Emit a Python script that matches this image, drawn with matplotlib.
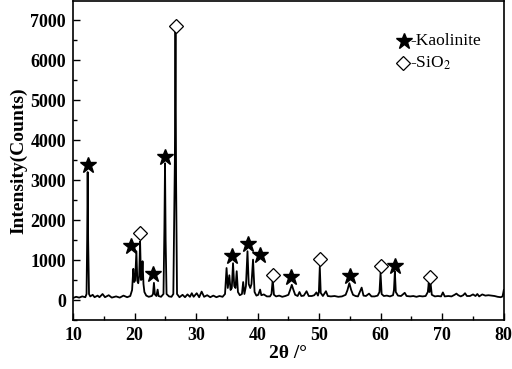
import matplotlib
matplotlib.use("Agg")
import matplotlib.pyplot as plt
from matplotlib.ticker import MultipleLocator

plt.rcParams['font.family'] = ['Liberation Serif', 'DejaVu Serif']
plt.rcParams['mathtext.fontset'] = 'stix'

# XRD trace (2theta in degrees, intensity in counts)
two_theta = [10.0, 10.5, 11.0, 11.5, 12.0, 12.2, 12.3, 12.38, 12.46, 12.6, 12.8, 13.2, 13.5, 14.0,
             14.3, 14.8, 15.2, 15.8, 16.3, 17.0, 17.6, 18.2, 18.8, 19.3, 19.6, 19.8, 19.95, 20.1,
             20.3, 20.45, 20.6, 20.75, 20.9, 21.05, 21.15, 21.3, 21.45, 21.6, 21.9, 22.3, 22.8,
             23.0, 23.15, 23.3, 23.55, 23.75, 23.9, 24.3, 24.7, 24.85, 24.95, 25.05, 25.2, 25.6,
             26.0, 26.3, 26.55, 26.65, 26.75, 26.9, 27.3, 27.8, 28.2, 28.6, 29.0, 29.3, 29.6,
             30.1, 30.5, 30.9, 31.3, 31.8, 32.3, 32.8, 33.3, 33.8, 34.3, 34.7, 34.95, 35.15,
             35.4, 35.6, 35.8, 36.0, 36.2, 36.4, 36.6, 36.8, 37.1, 37.45, 37.65, 37.85, 38.1,
             38.35, 38.55, 38.8, 39.0, 39.25, 39.5, 39.8, 40.1, 40.4, 40.6, 41.0, 41.5, 42.0,
             42.25, 42.45, 42.65, 43.0, 43.5, 44.0, 44.5, 45.0, 45.3, 45.55, 45.8, 46.1, 46.5,
             46.8, 47.1, 47.5, 47.95, 48.3, 48.8, 49.2, 49.55, 49.8, 49.95, 50.1, 50.25, 50.6,
             51.1, 51.4, 51.9, 52.5, 53.1, 53.7, 54.3, 54.6, 54.9, 55.2, 55.5, 55.9, 56.3, 56.9,
             57.2, 57.6, 58.1, 58.5, 59.0, 59.5, 59.8, 59.97, 60.15, 60.5, 61.0, 61.5, 62.0,
             62.15, 62.3, 62.45, 62.8, 63.3, 63.9, 64.2, 64.8, 65.3, 65.8, 66.3, 66.8, 67.3,
             67.65, 67.8, 67.93, 68.1, 68.3, 68.8, 69.3, 69.8, 70.1, 70.4, 71.0, 71.5, 72.0,
             72.3, 72.6, 73.0, 73.4, 73.7, 74.0, 74.5, 75.0, 75.4, 75.7, 76.0, 76.5, 77.0, 77.5,
             78.0, 78.5, 79.0, 79.5, 79.8, 80.0]
counts = [50, 80, 60, 90, 70, 150, 1500, 3200, 1500, 150, 90, 130, 70, 110,
          70, 150, 70, 120, 60, 90, 60, 110, 70, 100, 250, 780, 450, 500,
          1220, 480, 420, 600, 1460, 500, 520, 970, 400, 200, 110, 80, 100,
          150, 430, 140, 100, 260, 100, 80, 150, 1800, 3420, 1500, 150, 90,
          80, 150, 3500, 6750, 3000, 150, 70, 130, 70, 140, 80, 170, 80,
          170, 70, 210, 80, 120, 70, 110, 70, 100, 80, 150, 800, 300,
          620, 250, 300, 920, 350, 300, 720, 200, 120, 150, 450, 150, 350,
          1220, 400, 300, 400, 1010, 200, 110, 130, 260, 120, 140, 90, 90,
          150, 510, 130, 90, 110, 80, 100, 130, 260, 380, 260, 130, 100,
          200, 100, 110, 220, 100, 100, 120, 190, 110, 200, 830, 180, 100,
          220, 100, 90, 100, 80, 90, 130, 250, 420, 250, 130, 100, 90, 310,
          110, 100, 160, 90, 90, 110, 200, 680, 150, 100, 110, 90, 120,
          250, 710, 200, 110, 100, 180, 100, 90, 100, 80, 100, 90, 100,
          200, 420, 200, 420, 130, 90, 100, 90, 190, 90, 100, 90, 130,
          160, 120, 90, 120, 170, 100, 100, 140, 100, 150, 90, 140, 110, 120,
          110, 100, 80, 70, 90, 250]

# phase markers
kaolinite_x = [12.5, 19.5, 23.0, 24.94, 35.9, 38.37, 40.37, 45.5, 55.0, 62.3]
kaolinite_y = [3375, 1350, 650, 3565, 1110, 1400, 1125, 583, 600, 860]
quartz_x = [20.94, 26.68, 42.43, 50.1, 59.97, 68.0]
quartz_y = [1665, 6860, 625, 1015, 860, 583]

fig = plt.figure(figsize=(5.12, 3.69), dpi=100)
ax = fig.add_axes([0.1426, 0.1328, 0.8414, 0.864])

ax.plot(two_theta, counts, color='black', lw=1.3)
ax.plot(kaolinite_x, kaolinite_y, linestyle='none', marker='*', ms=12,
        color='black')
ax.plot(quartz_x, quartz_y, linestyle='none', marker='D', ms=7,
        mfc='white', mec='black', mew=0.9)

# legend drawn by hand
ax.plot([0.768], [0.876], transform=ax.transAxes, marker='*', ms=12, color='black')
ax.text(0.782, 0.876, '-Kaolinite', transform=ax.transAxes, fontsize=12.5,
        va='center', ha='left')
ax.plot([0.765], [0.806], transform=ax.transAxes, marker='D', ms=7,
        mfc='white', mec='black', mew=0.9)
ax.text(0.782, 0.806, r'-SiO$_2$', transform=ax.transAxes, fontsize=12.5,
        va='center', ha='left')

ax.set_xlim(10, 80)
ax.set_ylim(-500, 7475)
ax.xaxis.set_major_locator(MultipleLocator(10))
ax.xaxis.set_minor_locator(MultipleLocator(5))
ax.yaxis.set_major_locator(MultipleLocator(1000))
ax.yaxis.set_minor_locator(MultipleLocator(500))
ax.tick_params(which='both', direction='in', top=False, right=False,
               labelsize=13, width=1.0)
ax.tick_params(which='major', length=5, pad=5)
ax.tick_params(which='minor', length=3)
for lab in ax.get_xticklabels() + ax.get_yticklabels():
    lab.set_fontweight('bold')
for s in ax.spines.values():
    s.set_linewidth(1.2)

ax.set_xlabel('2θ /°', fontsize=14, fontweight='bold', labelpad=1)
ax.set_ylabel('Intensity(Counts)', fontsize=14, fontweight='bold', labelpad=2)

fig.savefig('out.png', dpi=100)
